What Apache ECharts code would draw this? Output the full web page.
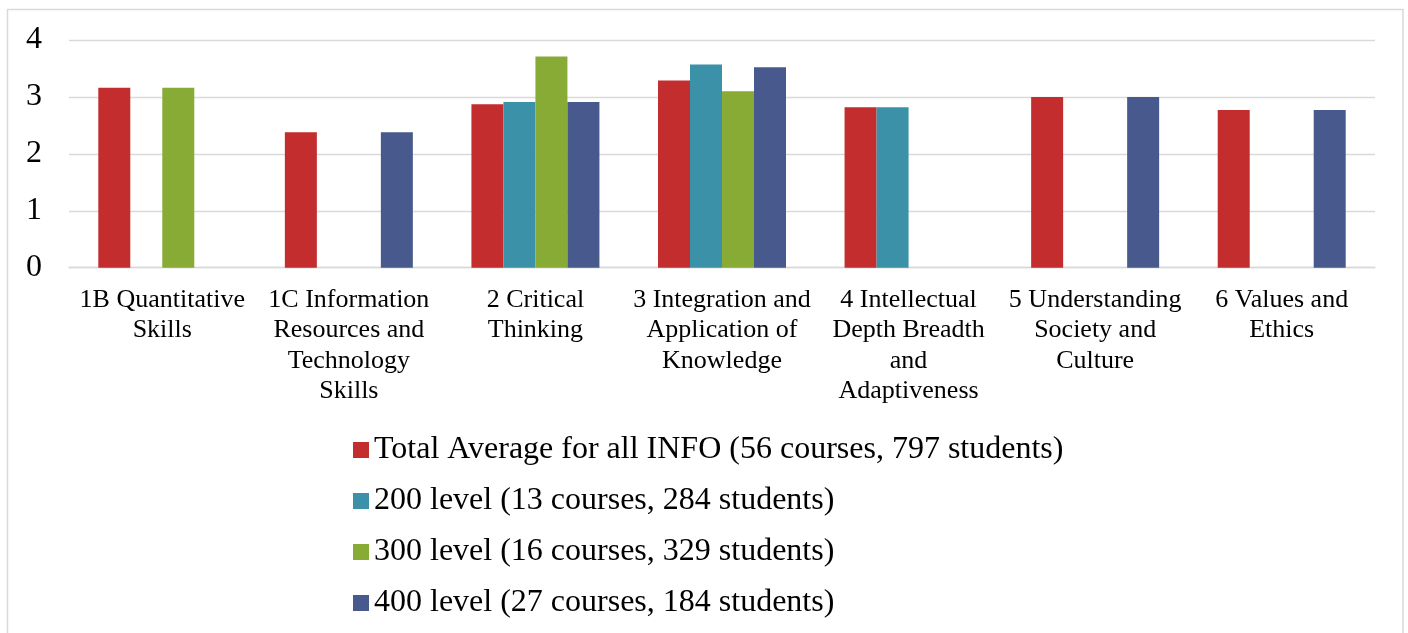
<!DOCTYPE html>
<html>
<head>
<meta charset="utf-8">
<script src="https://cdn.jsdelivr.net/npm/echarts@6/dist/echarts.min.js"></script>
<style>
html,body{margin:0;padding:0;background:#fff;}
#chart{width:1408px;height:633px;}
</style>
</head>
<body>
<div id="chart"></div>
<script>
const categories = [
  "1B Quantitative\nSkills",
  "1C Information\nResources and\nTechnology\nSkills",
  "2 Critical\nThinking",
  "3 Integration and\nApplication of\nKnowledge",
  "4 Intellectual\nDepth Breadth\nand\nAdaptiveness",
  "5 Understanding\nSociety and\nCulture",
  "6 Values and\nEthics"
];
const seriesNames = [
  "Total Average for all INFO (56 courses, 797 students)",
  "200 level (13 courses, 284 students)",
  "300 level (16 courses, 329 students)",
  "400 level (27 courses, 184 students)"
];
const totalAvg = [3.16, 2.38, 2.87, 3.29, 2.82, 3.00, 2.77];
const level200 = [null, null, 2.91, 3.57, 2.82, null, null];
const level300 = [3.16, null, 3.71, 3.10, null, null, null];
const level400 = [null, 2.38, 2.91, 3.52, null, 3.00, 2.77];
const yTicks = [0, 1, 2, 3, 4];

const colors = ["#C32D2E", "#3A91A8", "#87AB35", "#485A8D"];
const serif = "'Liberation Serif', 'Times New Roman', serif";
const chart = echarts.init(document.getElementById('chart'));
const dataSets = [totalAvg, level200, level300, level400];

chart.setOption({
  animation: false,
  backgroundColor: '#fff',
  color: colors,
  textStyle: { fontFamily: serif, color: '#000' },
  grid: { left: 69, right: 33, top: 40, bottom: 365.3, containLabel: false },
  legend: {
    orient: 'vertical',
    left: 353,
    top: 434,
    padding: 0,
    itemWidth: 16,
    itemHeight: 16,
    itemGap: 19,
    icon: 'rect',
    textStyle: { fontFamily: serif, fontSize: 32, color: '#000', lineHeight: 32 },
    data: seriesNames
  },
  xAxis: {
    type: 'category',
    data: categories,
    axisLine: { lineStyle: { color: '#d9d9d9', width: 1.3 } },
    axisTick: { show: false },
    axisLabel: {
      interval: 0,
      fontFamily: serif,
      fontSize: 26,
      lineHeight: 30.5,
      color: '#000',
      margin: 17
    }
  },
  yAxis: {
    type: 'value',
    min: yTicks[0],
    max: yTicks[yTicks.length - 1],
    interval: 1,
    axisLine: { show: false },
    axisTick: { show: false },
    splitLine: { lineStyle: { color: '#d9d9d9', width: 1.3 } },
    axisLabel: { fontFamily: serif, fontSize: 32, color: '#000', margin: 27 }
  },
  graphic: [{
    type: 'rect',
    shape: { x: 7.5, y: 9.5, width: 1395.5, height: 700 },
    style: { fill: 'none', stroke: '#d9d9d9', lineWidth: 1.5 },
    silent: true
  }],
  series: dataSets.map((d, i) => ({
    name: seriesNames[i],
    type: 'bar',
    data: d,
    barWidth: 32,
    barGap: '0%',
    itemStyle: { color: colors[i] }
  }))
});
</script>
</body>
</html>
